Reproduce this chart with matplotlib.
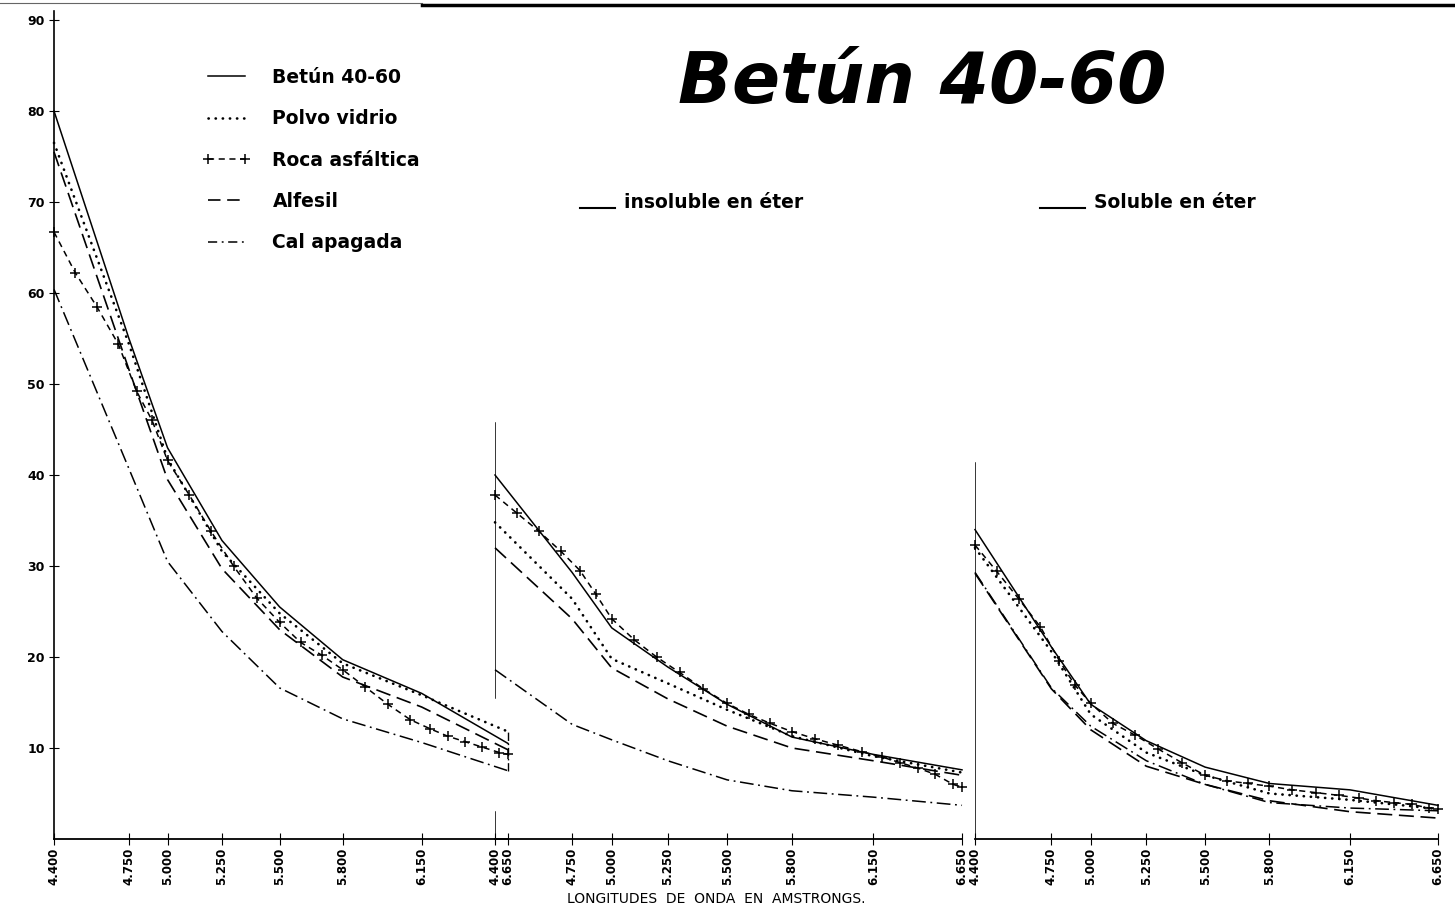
import matplotlib

matplotlib.use("Agg")
import matplotlib.pyplot as plt
import numpy as np
from matplotlib.lines import Line2D

# eje de longitudes de onda (dibujado a mano, no lineal)
WAVES = [4400, 4750, 5000, 5250, 5500, 5800, 6150, 6650]
WAVE_LABELS = ["4.400", "4.750", "5.000", "5.250", "5.500", "5.800", "6.150", "6.650"]
WAVE_FRAC = [0.0, 0.165, 0.25, 0.37, 0.497, 0.636, 0.81, 1.0]

# puntos de la roca asfáltica (cada 100 Å)
ROCA_WAVES = [4400, 4500, 4600, 4700, 4800, 4900, 5000, 5100, 5200, 5300, 5400, 5500,
              5600, 5700, 5800, 5900, 6000, 6100, 6200, 6300, 6400, 6500, 6600, 6650]

SERIES = ["Betún 40-60", "Polvo vidrio", "Roca asfáltica", "Alfesil", "Cal apagada"]

# panel 1: betún total
betun_1 = [80.0, 55.0, 43.0, 32.8, 25.5, 19.7, 16.0, 10.5]
polvo_1 = [76.5, 54.4, 41.8, 31.6, 24.8, 19.3, 15.8, 11.8]
alfesil_1 = [75.5, 51.6, 39.5, 29.7, 23.0, 17.8, 14.5, 9.8]
cal_1 = [60.4, 40.7, 30.5, 22.8, 16.6, 13.2, 10.6, 7.5]
roca_1 = [66.7, 62.2, 58.5, 54.4, 49.2, 46.0, 41.6, 37.8, 33.8, 30.0, 26.5, 23.8,
          21.6, 20.2, 18.6, 16.7, 14.8, 13.1, 12.1, 11.3, 10.7, 10.1, 9.5, 9.3]

# panel 2: insoluble en éter
betun_2 = [40.0, 29.3, 23.2, 18.9, 14.8, 11.2, 9.3, 7.6]
polvo_2 = [34.8, 26.4, 19.8, 17.1, 14.2, 11.3, 9.1, 7.3]
alfesil_2 = [32.0, 24.2, 18.8, 15.4, 12.4, 10.0, 8.6, 7.0]
cal_2 = [18.6, 12.6, 10.9, 8.6, 6.5, 5.3, 4.6, 3.7]
roca_2 = [37.8, 35.8, 33.8, 31.6, 29.5, 26.9, 24.2, 21.9, 20.0, 18.3, 16.5, 14.9,
          13.7, 12.7, 11.8, 11.0, 10.3, 9.6, 9.0, 8.4, 7.8, 7.1, 6.0, 5.7]

# panel 3: soluble en éter
betun_3 = [34.0, 21.1, 14.8, 10.8, 7.9, 6.1, 5.4, 3.7]
polvo_3 = [32.0, 20.6, 13.7, 9.5, 7.0, 5.0, 4.3, 3.3]
alfesil_3 = [29.2, 16.5, 12.0, 8.0, 6.0, 4.2, 3.0, 2.3]
cal_3 = [29.3, 16.6, 12.4, 8.6, 6.0, 4.0, 3.4, 3.1]
roca_3 = [32.3, 29.4, 26.4, 23.3, 19.6, 16.9, 14.9, 12.7, 11.4, 9.9, 8.4, 7.0,
          6.4, 6.1, 5.8, 5.4, 5.1, 4.8, 4.5, 4.2, 4.0, 3.8, 3.4, 3.3]

Y_TOP = 91
W, H = 1455, 911

STYLES = {
    "Betún 40-60": dict(ls="-", lw=1.1),
    "Polvo vidrio": dict(ls=(0, (0.1, 2.6)), lw=1.9, dash_capstyle="round"),
    "Roca asfáltica": dict(ls=(0, (4, 3)), lw=1.1, marker="+", ms=7, mew=1.1),
    "Alfesil": dict(ls=(0, (9, 4)), lw=1.2),
    "Cal apagada": dict(ls=(0, (9, 3, 1.2, 3)), lw=1.1),
}
# en la leyenda los trazos van más cortos para que quepa el patrón
LEGEND_DASHES = {
    "Alfesil": (0, (7.5, 4)),
    "Cal apagada": (0, (6, 3, 1.2, 3)),
}


def _fwd(x):
    return np.interp(x, WAVES, WAVE_FRAC)


def _inv(f):
    return np.interp(f, WAVE_FRAC, WAVES)


def _panel(fig, left_px, width_px):
    ax = fig.add_axes([left_px / W, 1 - 839 / H, width_px / W, (Y_TOP * 9.1) / H])
    ax.set_facecolor("none")
    ax.set_xscale("function", functions=(_fwd, _inv))
    ax.set_xlim(WAVES[0], WAVES[-1])
    ax.set_ylim(0, Y_TOP)
    for side in ("top", "right"):
        ax.spines[side].set_visible(False)
    ax.spines["bottom"].set_linewidth(1.3)
    ax.set_xticks(WAVES, WAVE_LABELS, rotation=90)
    ax.tick_params(axis="x", direction="inout", length=8, width=0.8,
                   labelsize=8.5, pad=2)
    for lab in ax.get_xticklabels():
        lab.set_fontweight("bold")
    return ax


def _draw(ax, betun, polvo, roca, alfesil, cal):
    values = {"Betún 40-60": betun, "Polvo vidrio": polvo, "Alfesil": alfesil,
              "Cal apagada": cal}
    for name, vals in values.items():
        ax.plot(WAVES, vals, color="black", clip_on=False, **STYLES[name])
    ax.plot(ROCA_WAVES, roca, color="black", clip_on=False, **STYLES["Roca asfáltica"])


fig = plt.figure(figsize=(W / 100, H / 100), dpi=100)

ax1 = _panel(fig, 54, 454)
ax1.spines["left"].set_linewidth(1.2)
ax1.set_yticks(range(10, 91, 10))
ax1.tick_params(axis="y", direction="inout", length=7, width=0.8, labelsize=9, pad=3)
for lab in ax1.get_yticklabels():
    lab.set_fontweight("bold")
_draw(ax1, betun_1, polvo_1, roca_1, alfesil_1, cal_1)
ax1.vlines(WAVES[-1], cal_1[-1], polvo_1[-1], color="black", lw=1.0,
           ls=(0, (6, 2, 1, 2)), clip_on=False)

ax2 = _panel(fig, 495, 467)
ax2.spines["left"].set_visible(False)
ax2.set_yticks([])
_draw(ax2, betun_2, polvo_2, roca_2, alfesil_2, cal_2)
for lo, hi in [(0, 3.0), (15.5, 45.7)]:
    ax2.axvline(WAVES[0], lo / Y_TOP, hi / Y_TOP, color="black", lw=1.1)

ax3 = _panel(fig, 975, 463)
ax3.spines["left"].set_visible(False)
ax3.set_yticks([])
_draw(ax3, betun_3, polvo_3, roca_3, alfesil_3, cal_3)
ax3.axvline(WAVES[0], 0, 41.3 / Y_TOP, color="black", lw=1.1)

# leyenda
handles = []
for name in SERIES:
    style = dict(STYLES[name])
    if name in LEGEND_DASHES:
        style["ls"] = LEGEND_DASHES[name]
    handles.append(Line2D([], [], color="black", **style))
fig.legend(handles, SERIES, loc="upper left", bbox_to_anchor=(202 / W, 1 - 68 / H),
           frameon=False, numpoints=2, borderpad=0, borderaxespad=0,
           handlelength=2.57, handletextpad=1.19, labelspacing=1.19,
           prop=dict(size=13.5, weight="bold"))

# subtítulos de los paneles
for x0, x1, label in [(580, 615, "insoluble en éter"), (1040, 1085, "Soluble en éter")]:
    fig.add_artist(Line2D([x0 / W, x1 / W], [1 - 208 / H] * 2, color="black", lw=1.5))
    fig.text((x1 + 9) / W, 1 - 202 / H, label, fontsize=13.5, fontweight="bold",
             ha="left", va="center")

fig.text(922 / W, 1 - 84 / H, "Betún 40-60", fontsize=51, fontweight="heavy",
         fontstyle="italic", ha="center", va="center")

fig.text(716 / W, 1 - 899 / H, "LONGITUDES  DE  ONDA  EN  AMSTRONGS.", fontsize=10,
         ha="center", va="center")

# borde superior del escaneo
fig.add_artist(Line2D([0.0, 0.29], [1 - 3 / H] * 2, color="0.4", lw=0.8))
fig.add_artist(Line2D([0.29, 1.0], [1 - 5 / H] * 2, color="black", lw=2.5))

fig.savefig("out.png", dpi=100)
